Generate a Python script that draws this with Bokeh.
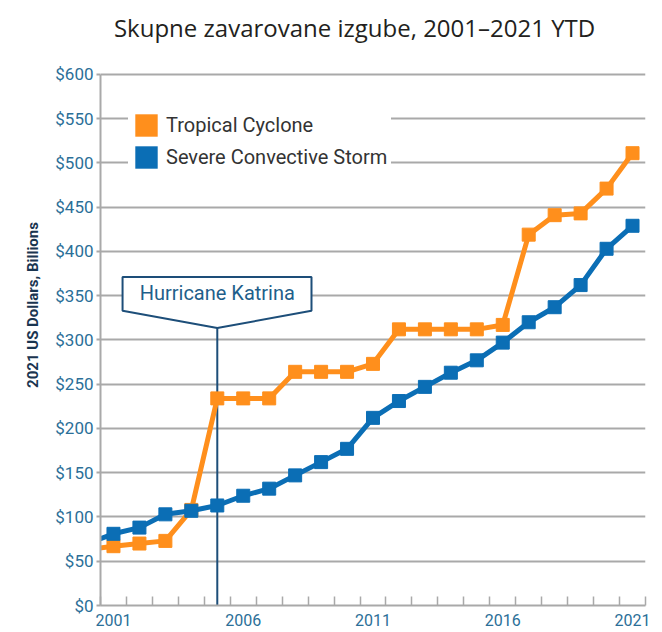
from bokeh.plotting import figure
from bokeh.models import (FixedTicker, PrintfTickFormatter, Legend, LegendItem,
                          Range1d)
from bokeh.core.properties import value
from bokeh.embed import file_html
from bokeh.resources import INLINE

# ---------------- data ----------------
years = list(range(2001, 2022))
tropical_cyclone = [67, 70, 73, 108, 234, 234, 234, 264, 264, 264, 273,
                    312, 312, 312, 312, 317, 419, 441, 443, 471, 511]
severe_convective_storm = [81, 88, 103, 107, 113, 124, 132, 147, 162, 177, 212,
                           231, 247, 263, 277, 297, 320, 337, 362, 403, 429]
# values just before the first year (line enters from the left edge)
lead_year = 2000
tropical_cyclone_lead = 63
severe_convective_storm_lead = 70

series_names = ["Tropical Cyclone", "Severe Convective Storm"]
event_year = 2005
event_label = "Hurricane Katrina"
x_label_years = [2001, 2006, 2011, 2016, 2021]
y_ticks = list(range(0, 601, 50))
title_text = "Skupne zavarovane izgube, 2001–2021 YTD"
y_title = "2021 US Dollars, Billions"

ORANGE = "#FF8F1C"
BLUE = "#0B6EB5"
NAVY = "#1D4E79"
TICK_COLOR = "#2B6F98"
GRID = "#A9A9A9"

# the frame extends above the $600 line so the title can sit inside it
p = figure(width=654, height=628, output_backend="svg", toolbar_location=None,
           x_range=Range1d(2000.5, 2021.5), y_range=Range1d(0, 679),
           min_border_left=100, min_border_right=9, min_border_top=4,
           min_border_bottom=0, title=None)
p.outline_line_color = None
p.background_fill_color = "white"

# title
p.text(x=[2010.29], y=[653], text=[title_text], text_align="center",
       text_baseline="middle", text_font=value("Open Sans"),
       text_font_size="24px", text_color="#231F20")

# grid
p.xgrid.visible = False
p.ygrid.grid_line_color = GRID
p.ygrid.grid_line_width = 2

# y axis
p.yaxis.ticker = FixedTicker(ticks=y_ticks)
p.yaxis.bounds = (0, 600)
p.yaxis.formatter = PrintfTickFormatter(format="$%d")
p.yaxis.axis_line_color = GRID
p.yaxis.axis_line_width = 2
p.yaxis.major_tick_line_color = GRID
p.yaxis.major_tick_line_width = 2
p.yaxis.major_tick_out = 4
p.yaxis.major_tick_in = 0
p.yaxis.minor_tick_line_color = None
p.yaxis.major_label_standoff = 3
p.yaxis.major_label_text_font = "Roboto"
p.yaxis.major_label_text_font_size = "17px"
p.yaxis.major_label_text_color = TICK_COLOR
p.yaxis.axis_label = y_title
p.yaxis.axis_label_standoff = 10
p.yaxis.axis_label_text_font = "Roboto"
p.yaxis.axis_label_text_font_style = "bold"
p.yaxis.axis_label_text_font_size = "15px"
p.yaxis.axis_label_text_color = "#1A3550"

# x axis
p.xaxis.ticker = FixedTicker(ticks=x_label_years,
                             minor_ticks=[y - 0.5 for y in years] + [years[-1] + 0.5])
p.xaxis.major_label_overrides = {y: str(y) for y in x_label_years}
p.xaxis.axis_line_color = GRID
p.xaxis.axis_line_width = 2
p.xaxis.major_tick_line_color = None
p.xaxis.minor_tick_line_color = GRID
p.xaxis.minor_tick_line_width = 1.5
p.xaxis.minor_tick_in = 9
p.xaxis.minor_tick_out = 0
p.xaxis.major_label_standoff = 2
p.xaxis.major_label_text_font = "Roboto"
p.xaxis.major_label_text_font_size = "16px"
p.xaxis.major_label_text_color = TICK_COLOR

# Katrina marker line
p.segment(x0=[event_year], y0=[0], x1=[event_year], y1=[313.5],
          line_color=NAVY, line_width=2)

# series lines
p.line([lead_year] + years, [tropical_cyclone_lead] + tropical_cyclone,
       line_color=ORANGE, line_width=5)
p.scatter(years, tropical_cyclone, marker="square", size=13,
          fill_color=ORANGE, line_color=ORANGE)
p.line([lead_year] + years, [severe_convective_storm_lead] + severe_convective_storm,
       line_color=BLUE, line_width=5)
p.scatter(years, severe_convective_storm, marker="square", size=13,
          fill_color=BLUE, line_color=BLUE)

# callout box
bx0, bx1 = event_year - 3.65, event_year + 3.63
p.patch([bx0, bx1, bx1, event_year, bx0], [371, 371, 333, 313.5, 333],
        fill_color="white", line_color=NAVY, line_width=2)
p.text(x=[event_year], y=[352.5], text=[event_label], text_align="center",
       text_baseline="middle", text_font=value("Roboto"), text_font_size="20px",
       text_color="#1F5F8B")

# legend with plain squares (proxy glyphs placed outside the visible range)
leg_o = p.quad(left=[1990], right=[1991], top=[-10], bottom=[-20],
               fill_color=ORANGE, line_color=None)
leg_b = p.quad(left=[1990], right=[1991], top=[-10], bottom=[-20],
               fill_color=BLUE, line_color=None)
legend = Legend(items=[LegendItem(label=series_names[0], renderers=[leg_o]),
                       LegendItem(label=series_names[1], renderers=[leg_b])],
                location=(28, 430), glyph_width=28, glyph_height=28,
                label_height=28, spacing=4, padding=4, margin=0,
                label_standoff=6, label_text_font="Roboto",
                label_text_font_size="20px", label_text_color="#333333",
                border_line_alpha=0, background_fill_color="white",
                background_fill_alpha=1)
p.add_layout(legend, "center")

open("out.html", "w").write(file_html(p, INLINE))
